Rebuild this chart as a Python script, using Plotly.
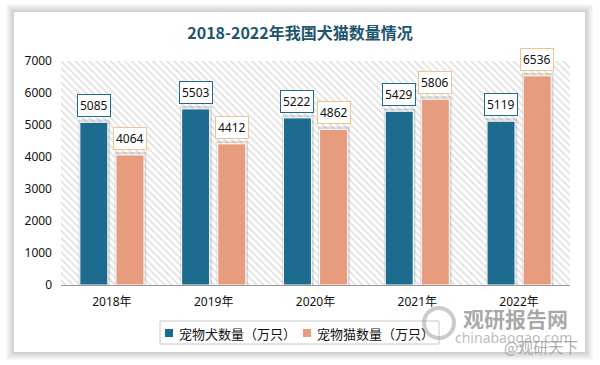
import plotly.graph_objects as go

years = ["2018年", "2019年", "2020年", "2021年", "2022年"]
dogs = [5085, 5503, 5222, 5429, 5119]
cats = [4064, 4412, 4862, 5806, 6536]
dog_name = "宠物犬数量（万只）"
cat_name = "宠物猫数量（万只）"
title_text = "2018-2022年我国犬猫数量情况"

DOG = "#1d6b8e"
CAT = "#e79c7d"
CAT_EDGE = "#f5c18e"
FONT = "Noto Sans, Noto Sans CJK SC, sans-serif"

W, H = 600, 365
L, R, T, B = 61, 30, 61, 80
pw, ph = W - L - R, H - T - B


def px_x(px):
    return (px - L) / pw


def px_y(py):
    return (H - B - py) / ph


bw = 0.275
off = 0.04

fig = go.Figure()
# hatched background
fig.add_trace(go.Bar(
    x=[years[2]], y=[7000], width=[5], showlegend=False, hoverinfo="skip",
    marker=dict(color="white", line=dict(width=0),
                pattern=dict(shape="\\", fgcolor="#c4c4c4", bgcolor="white",
                             size=5, solidity=0.35)),
))
# bar glow/shadows
for vals, o in ((dogs, -off - bw), (cats, off)):
    fig.add_trace(go.Bar(
        x=years, y=[v + 90 for v in vals], width=bw + 0.035, offset=o - 0.0125,
        showlegend=False, hoverinfo="skip",
        marker=dict(color="rgba(0,0,0,0.13)", line=dict(width=0)),
    ))
fig.add_trace(go.Bar(
    x=years, y=dogs, width=bw, offset=-off - bw, name=dog_name, showlegend=False,
    marker=dict(color=DOG, line=dict(color="white", width=1)),
))
fig.add_trace(go.Bar(
    x=years, y=cats, width=bw, offset=off, name=cat_name, showlegend=False,
    marker=dict(color=CAT, line=dict(color="white", width=1)),
))

annotations = []
centre = off + bw / 2
for i, (d, c) in enumerate(zip(dogs, cats)):
    annotations.append(dict(
        x=i - centre, y=d, xref="x", yref="y", text=str(d), showarrow=False,
        yanchor="bottom", yshift=5, font=dict(size=12, color="#111", family=FONT),
        bgcolor="white", bordercolor=DOG, borderwidth=1, borderpad=2,
    ))
    annotations.append(dict(
        x=i + centre, y=c, xref="x", yref="y", text=str(c), showarrow=False,
        yanchor="bottom", yshift=5, font=dict(size=12, color="#111", family=FONT),
        bgcolor="white", bordercolor=CAT_EDGE, borderwidth=1, borderpad=2,
    ))

shapes = []
# card shadow
cx0, cx1, cy0, cy1 = 14, 585, 12, 352
for k in range(8, 0, -1):
    shapes.append(dict(
        type="rect", xref="paper", yref="paper", layer="below",
        x0=px_x(cx0 - k), x1=px_x(cx1 + k), y0=px_y(cy1 + k), y1=px_y(cy0 - k),
        fillcolor="rgba(0,0,0,0.025)", line=dict(width=0),
    ))
shapes.append(dict(
    type="rect", xref="paper", yref="paper", layer="below",
    x0=px_x(cx0), x1=px_x(cx1), y0=px_y(cy1), y1=px_y(cy0),
    fillcolor="white", line=dict(width=0),
))

# legend (drawn)
shapes.append(dict(
    type="rect", xref="paper", yref="paper",
    x0=px_x(160), x1=px_x(439), y0=px_y(344), y1=px_y(321),
    fillcolor="white", line=dict(color="#c8c8c8", width=1),
))
for (sx, col) in ((165, DOG), (303, CAT)):
    shapes.append(dict(
        type="rect", xref="paper", yref="paper",
        x0=px_x(sx), x1=px_x(sx + 8), y0=px_y(337), y1=px_y(329),
        fillcolor=col, line=dict(width=0),
    ))
for (tx, name) in ((177, dog_name), (315, cat_name)):
    annotations.append(dict(
        x=px_x(tx), y=px_y(333), xref="paper", yref="paper", text=name,
        showarrow=False, xanchor="left", yanchor="middle",
        font=dict(size=13, color="#111", family="Noto Sans CJK SC"),
    ))

# watermark
shapes.append(dict(
    type="circle", xref="paper", yref="paper",
    x0=px_x(424), x1=px_x(454), y0=px_y(338), y1=px_y(308),
    line=dict(color="rgba(140,140,140,0.45)", width=4), fillcolor="rgba(0,0,0,0)",
))
annotations += [
    dict(x=px_x(515), y=px_y(318), xref="paper", yref="paper", text="<b>观研报告网</b>",
         showarrow=False, xanchor="center", yanchor="middle",
         font=dict(size=21, color="rgba(110,110,110,0.6)", family="Noto Sans CJK SC")),
    dict(x=px_x(513), y=px_y(337), xref="paper", yref="paper", text="chinabaogao.com",
         showarrow=False, xanchor="center", yanchor="middle",
         font=dict(size=14, color="rgba(130,130,130,0.55)", family=FONT)),
    dict(x=px_x(541), y=px_y(346), xref="paper", yref="paper", text="@观研天下",
         showarrow=False, xanchor="center", yanchor="middle",
         font=dict(size=15, color="rgba(150,150,150,0.8)", family="Noto Sans CJK SC")),
]

fig.update_layout(
    width=W, height=H, margin=dict(l=L, r=R, t=T, b=B),
    paper_bgcolor="white", plot_bgcolor="rgba(0,0,0,0)",
    barmode="overlay", showlegend=False,
    font=dict(family=FONT, size=12, color="#222"),
    title=dict(text="<b>" + title_text + "</b>", x=0.5, xref="container",
               y=1 - 33 / H, yanchor="middle", xanchor="center",
               font=dict(size=16, color="#1d5570", family="Noto Sans CJK SC")),
    xaxis=dict(type="category", categoryorder="array", categoryarray=years,
               range=[-0.5, 4.5], showgrid=False, showline=True, linecolor="#999",
               linewidth=1, ticks="", tickfont=dict(size=12, color="#111"),
               ticklabelstandoff=6),
    yaxis=dict(range=[0, 7000], dtick=1000, showgrid=False, zeroline=False,
               showline=False, ticks="", tickfont=dict(size=12, color="#111"),
               ticklabelstandoff=8),
    annotations=annotations, shapes=shapes,
)

fig.write_html("out.html", config={"displayModeBar": False},
               post_script="document.body.style.margin='0';")
